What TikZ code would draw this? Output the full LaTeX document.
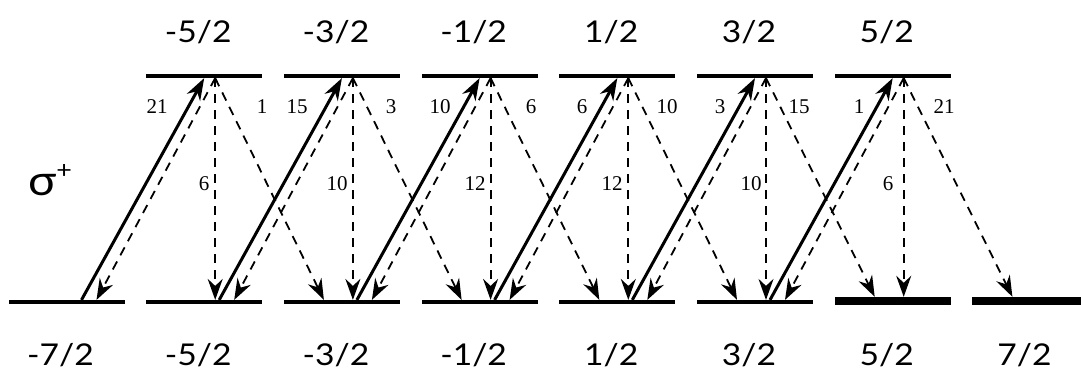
\documentclass[tikz,border=0pt]{standalone}
\usepackage{fontspec}
\setmainfont{Liberation Serif}
\newfontfamily\labfont[FakeStretch=1.12]{Lato}
\usetikzlibrary{arrows.meta}
\begin{document}
\begin{tikzpicture}[x=1pt,y=-1pt,
  lvl/.style={fill=black,inner sep=0pt,minimum width=116pt,minimum height=3.8pt},
  dark/.style={lvl,minimum height=8pt},
  pump/.style={line width=3pt,-{Stealth[length=22pt,width=15pt,inset=7pt]}},
  decay/.style={line width=1.8pt,dash pattern=on 9pt off 7pt,-{Stealth[length=21pt,width=15pt,inset=7pt]}},
  mlab/.style={font=\labfont\fontsize{30}{32}\selectfont,inner sep=0pt},
  cg/.style={font=\fontsize{21}{22}\selectfont,inner sep=0pt}]
\useasboundingbox (0,0) rectangle (1081,374);
% lower levels
\foreach \i in {0,...,5} \node[lvl] (lo\i) at ({66.5+137.7*\i},302) {};
\foreach \i in {6,7} \node[dark] (lo\i) at ({66.5+137.7*\i},301) {};
% upper levels
\foreach \j in {1,...,6} \node[lvl] (up\j) at ({66.5+137.7*\j},76) {};
% labels
\foreach \t [count=\i from 0] in {-7/2,-5/2,-3/2,-1/2,1/2,3/2,5/2,7/2}
  \node[mlab] (llab\i) at ({60.5+137.7*\i},355) {\t};
\foreach \t [count=\j from 1] in {-5/2,-3/2,-1/2,1/2,3/2,5/2}
  \node[mlab] (ulab\j) at ({60.5+137.7*\j},32) {\t};
\node[inner sep=0pt,font=\labfont] (sig) at (50,180) {\fontsize{42}{42}\selectfont σ\raisebox{17pt}{\fontsize{24}{24}\selectfont +}};
% pumping transitions
\foreach \i [evaluate=\i as \k using int(\i+1)] in {0,...,5}
  \draw[pump] ([xshift=15pt]lo\i.north) -- (up\k.south);
% spontaneous decay
\foreach \j [evaluate=\j as \a using int(\j-1), evaluate=\j as \b using int(\j+1)] in {1,...,6} {
  \draw[decay] ([xshift=11pt]up\j.south) -- ([xshift=30pt]lo\a.north);
  \draw[decay] ([xshift=11pt]up\j.south) -- ([xshift=11pt]lo\j.north);
  \draw[decay] ([xshift=11pt]up\j.south) -- ([xshift=-18pt]lo\b.north);
}
% Clebsch-Gordan weights
\foreach \x/\t [count=\n] in {157/21,297/15,440/10,582/6,720/3,859/1}
  \node[cg] (cl\n) at (\x,107) {\t};
\foreach \x/\t [count=\n] in {262/1,391/3,531/6,667/10,799/15,944/21}
  \node[cg] (cr\n) at (\x,107) {\t};
\foreach \x/\t [count=\n] in {204/6,337/10,475/12,612/12,751/10,888/6}
  \node[cg] (cm\n) at (\x,184) {\t};
\end{tikzpicture}
\end{document}
